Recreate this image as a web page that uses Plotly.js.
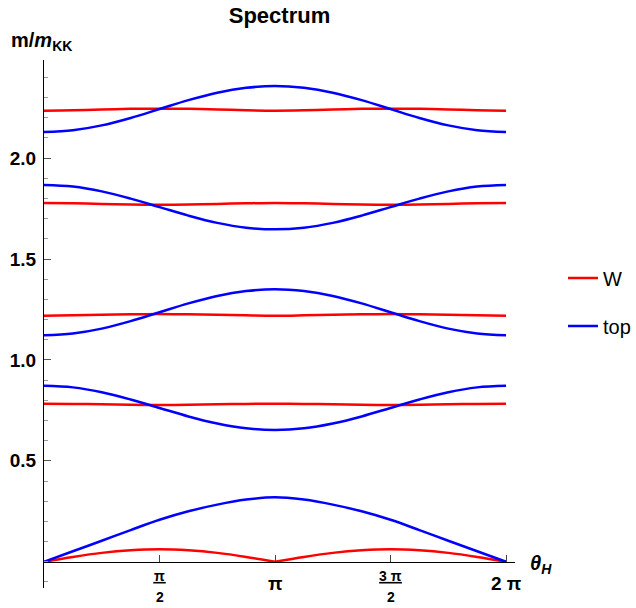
<!DOCTYPE html>
<html><head><meta charset="utf-8">
<script src="https://cdn.plot.ly/plotly-3.0.1.min.js"></script>
<style>html,body{margin:0;padding:0;background:#fff}#chart{width:636px;height:608px}</style>
</head><body><div id="chart"></div>
<script>
// sample grid: theta_H = k * pi/8, k = 0..16
const thetaSteps = [0,1,2,3,4,5,6,7,8,9,10,11,12,13,14,15,16];
const theta = thetaSteps.map(k => k * Math.PI / 8);

// W boson tower
const wBand1 = [0, 0.024, 0.044, 0.057, 0.062, 0.057, 0.044, 0.024, 0, 0.024, 0.044, 0.057, 0.062, 0.057, 0.044, 0.024, 0];
const wBand2 = [0.783, 0.782, 0.780, 0.778, 0.777, 0.778, 0.780, 0.782, 0.783, 0.782, 0.780, 0.778, 0.777, 0.778, 0.780, 0.782, 0.783];
const wBand3 = [1.219, 1.221, 1.224, 1.226, 1.227, 1.226, 1.224, 1.221, 1.219, 1.221, 1.224, 1.226, 1.227, 1.226, 1.224, 1.221, 1.219];
const wBand4 = [1.778, 1.776, 1.773, 1.770, 1.769, 1.770, 1.773, 1.776, 1.778, 1.776, 1.773, 1.770, 1.769, 1.770, 1.773, 1.776, 1.778];
const wBand5 = [2.235, 2.237, 2.241, 2.244, 2.245, 2.244, 2.241, 2.237, 2.235, 2.237, 2.241, 2.244, 2.245, 2.244, 2.241, 2.237, 2.235];

// top quark tower
const topBand1 = [0, 0.052, 0.104, 0.157, 0.208, 0.250, 0.283, 0.308, 0.320, 0.308, 0.283, 0.250, 0.208, 0.157, 0.104, 0.052, 0];
const topBand2 = [0.872, 0.864, 0.840, 0.804, 0.762, 0.720, 0.685, 0.661, 0.653, 0.661, 0.685, 0.720, 0.762, 0.804, 0.840, 0.864, 0.872];
const topBand3 = [1.122, 1.131, 1.155, 1.192, 1.236, 1.280, 1.317, 1.341, 1.350, 1.341, 1.317, 1.280, 1.236, 1.192, 1.155, 1.131, 1.122];
const topBand4 = [1.867, 1.859, 1.835, 1.799, 1.757, 1.715, 1.679, 1.655, 1.647, 1.655, 1.679, 1.715, 1.757, 1.799, 1.835, 1.859, 1.867];
const topBand5 = [2.129, 2.138, 2.162, 2.199, 2.243, 2.287, 2.324, 2.348, 2.357, 2.348, 2.324, 2.287, 2.243, 2.199, 2.162, 2.138, 2.129];

// ticks
const xTickVals = [Math.PI/2, Math.PI, 3*Math.PI/2, 2*Math.PI];
const xTickNum = ["π", "π", "3 π", "2 π"];
const xTickDen = ["2", "", "2", ""];
const yTickVals = [0.5, 1.0, 1.5, 2.0];
const yTickText = ["0.5", "1.0", "1.5", "2.0"];

const FONT = "Liberation Sans, Arial, Helvetica, sans-serif";
const RED = "#ff0000", BLUE = "#0000ff";
const LW = 2.5;

const traces = [];
function addTrace(x, y, name, color, show) {
  traces.push({
    x: x, y: y, type: "scatter", mode: "lines",
    line: {color: color, width: LW, shape: "spline", smoothing: 1},
    name: name, legendgroup: name, showlegend: show, hoverinfo: "skip"
  });
}
// lowest W band has a cusp at pi: draw the two arches separately
addTrace(theta.slice(0, 9), wBand1.slice(0, 9), "W", RED, true);
addTrace(theta.slice(8), wBand1.slice(8), "W", RED, false);
[wBand2, wBand3, wBand4, wBand5].forEach(b => addTrace(theta, b, "W", RED, false));
[topBand1, topBand2, topBand3, topBand4, topBand5].forEach((b, i) => addTrace(theta, b, "top", BLUE, i === 0));

// plot-area geometry helpers (pixels -> paper)
const W = 636, H = 608;
const PL = 44, PR = 515, PT = 60, PB = 588;
const py = p => (PB - p) / (PB - PT);
const px = p => (p - PL) / (PR - PL);

const annotations = [];
const shapes = [];
xTickVals.forEach((v, i) => {
  if (xTickDen[i]) {
    annotations.push({x: v, xref: "x", y: py(575.5), yref: "paper", text: "<b>" + xTickNum[i] + "</b>",
      showarrow: false, xanchor: "center", yanchor: "middle", font: {family: FONT, size: 14, color: "#000"}});
    annotations.push({x: v, xref: "x", y: py(596.5), yref: "paper", text: "<b>" + xTickDen[i] + "</b>",
      showarrow: false, xanchor: "center", yanchor: "middle", font: {family: FONT, size: 14, color: "#000"}});
    const half = xTickNum[i].length > 1 ? 0.155 : 0.085;
    shapes.push({type: "line", xref: "x", yref: "paper", x0: v - half, x1: v + half, y0: py(582.7), y1: py(582.7),
      line: {color: "#000", width: 1.6}});
  } else {
    annotations.push({x: v, xref: "x", y: py(583.5), yref: "paper", text: "<b>" + xTickNum[i] + "</b>",
      showarrow: false, xanchor: "center", yanchor: "middle", font: {family: FONT, size: 19, color: "#000"}});
  }
});
annotations.push({x: px(9), xref: "paper", y: py(41), yref: "paper", xanchor: "left", yanchor: "middle",
  text: "<b>m/<i>m</i><sub>KK</sub></b>", showarrow: false, font: {family: FONT, size: 20, color: "#000"}});
annotations.push({x: px(528), xref: "paper", y: py(564), yref: "paper", xanchor: "left", yanchor: "middle",
  text: "<b><i>θ</i><sub><i>H</i></sub></b>", showarrow: false, font: {family: FONT, size: 20, color: "#000"}});

const layout = {
  width: W, height: H,
  margin: {l: PL, r: W - PR, t: PT, b: H - PB, pad: 0, autoexpand: false},
  paper_bgcolor: "#fff", plot_bgcolor: "#fff",
  font: {family: FONT, color: "#000"},
  title: {text: "<b>Spectrum</b>", font: {family: FONT, size: 22, color: "#000"},
          x: 0.5, xref: "paper", xanchor: "center", y: 1 - 15 / H, yref: "container", yanchor: "middle"},
  xaxis: {
    range: [0, 6.405], anchor: "free", position: py(561.7),
    showline: true, linecolor: "#000", linewidth: 1,
    ticks: "inside", ticklen: 7, tickcolor: "#444", tickwidth: 1,
    tickmode: "array", tickvals: xTickVals, showticklabels: false,
    showgrid: false, zeroline: false, fixedrange: true, automargin: false
  },
  yaxis: {
    range: [-0.130, 2.486],
    showline: true, linecolor: "#000", linewidth: 1,
    ticks: "inside", ticklen: 7, tickcolor: "#555", tickwidth: 1,
    tickmode: "array", tickvals: yTickVals, ticktext: yTickText.map(t => "<b>" + t + "</b>"),
    tickfont: {family: FONT, size: 19, color: "#000"}, ticklabelstandoff: 3,
    minor: {tickmode: "linear", tick0: 0, dtick: 0.1, ticks: "inside", ticklen: 4, tickcolor: "#999", showgrid: false},
    showgrid: false, zeroline: false, fixedrange: true, automargin: false
  },
  legend: {
    x: 563 / W, xref: "container", xanchor: "left", y: 1 - 302 / H, yref: "container", yanchor: "middle",
    font: {family: FONT, size: 20, color: "#000"},
    traceorder: "grouped", tracegroupgap: 19, bgcolor: "rgba(0,0,0,0)", borderwidth: 0
  },
  showlegend: true,
  annotations: annotations,
  shapes: shapes
};

Plotly.newPlot("chart", traces, layout, {displayModeBar: false, staticPlot: true});
</script></body></html>
